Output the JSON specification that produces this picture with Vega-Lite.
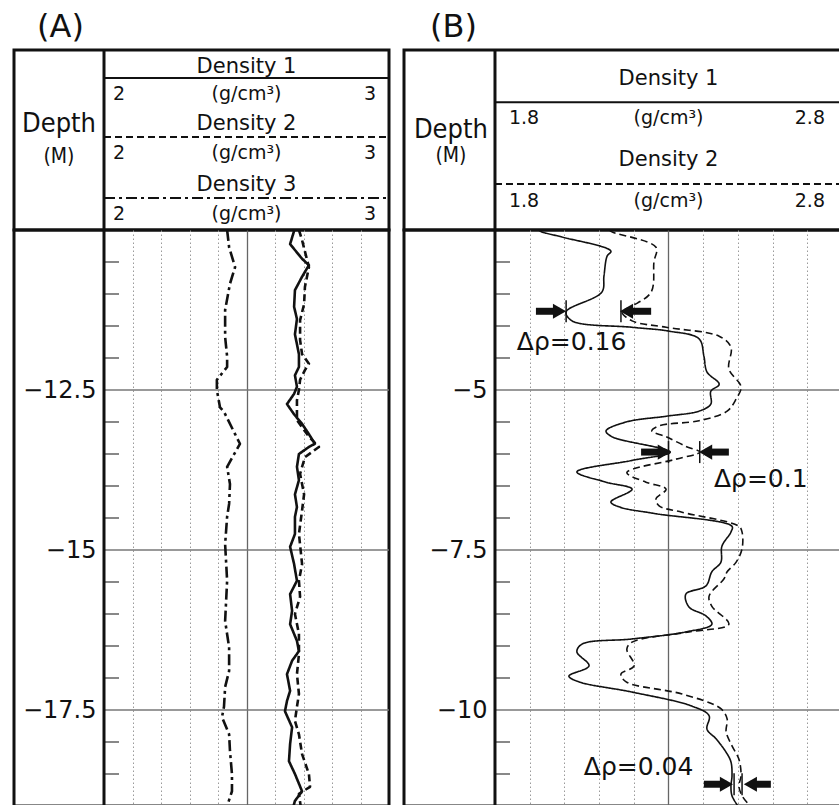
{
  "$schema": "https://vega.github.io/schema/vega-lite/v6.json",
  "background": "white",
  "padding": {"left": 12, "top": 9, "right": 0, "bottom": 0},
  "config": {
    "view": {"stroke": "#111", "strokeWidth": 3},
    "font": "DejaVu Sans",
    "title": {"font": "DejaVu Sans", "fontSize": 32, "fontWeight": "normal", "color": "#111", "anchor": "start", "offset": 5},
    "text": {"font": "DejaVu Sans", "color": "#111"}
  },
  "datasets": {
    "logs": [
      {"panel":"A","series":"Density 1","depth":-10,"density":2.668},
      {"panel":"A","series":"Density 1","depth":-10.22,"density":2.653},
      {"panel":"A","series":"Density 1","depth":-10.45,"density":2.695},
      {"panel":"A","series":"Density 1","depth":-10.55,"density":2.719},
      {"panel":"A","series":"Density 1","depth":-10.73,"density":2.695},
      {"panel":"A","series":"Density 1","depth":-10.94,"density":2.67},
      {"panel":"A","series":"Density 1","depth":-11.2,"density":2.667},
      {"panel":"A","series":"Density 1","depth":-11.39,"density":2.677},
      {"panel":"A","series":"Density 1","depth":-11.63,"density":2.67},
      {"panel":"A","series":"Density 1","depth":-11.94,"density":2.684},
      {"panel":"A","series":"Density 1","depth":-12.14,"density":2.684},
      {"panel":"A","series":"Density 1","depth":-12.27,"density":2.67},
      {"panel":"A","series":"Density 1","depth":-12.45,"density":2.677},
      {"panel":"A","series":"Density 1","depth":-12.56,"density":2.667},
      {"panel":"A","series":"Density 1","depth":-12.72,"density":2.642},
      {"panel":"A","series":"Density 1","depth":-12.88,"density":2.667},
      {"panel":"A","series":"Density 1","depth":-13.03,"density":2.695},
      {"panel":"A","series":"Density 1","depth":-13.19,"density":2.719},
      {"panel":"A","series":"Density 1","depth":-13.34,"density":2.74},
      {"panel":"A","series":"Density 1","depth":-13.39,"density":2.719},
      {"panel":"A","series":"Density 1","depth":-13.5,"density":2.684},
      {"panel":"A","series":"Density 1","depth":-13.7,"density":2.677},
      {"panel":"A","series":"Density 1","depth":-13.91,"density":2.684},
      {"panel":"A","series":"Density 1","depth":-14.13,"density":2.67},
      {"panel":"A","series":"Density 1","depth":-14.33,"density":2.677},
      {"panel":"A","series":"Density 1","depth":-14.48,"density":2.67},
      {"panel":"A","series":"Density 1","depth":-14.75,"density":2.67},
      {"panel":"A","series":"Density 1","depth":-14.95,"density":2.653},
      {"panel":"A","series":"Density 1","depth":-15.22,"density":2.667},
      {"panel":"A","series":"Density 1","depth":-15.48,"density":2.677},
      {"panel":"A","series":"Density 1","depth":-15.69,"density":2.653},
      {"panel":"A","series":"Density 1","depth":-15.95,"density":2.66},
      {"panel":"A","series":"Density 1","depth":-16.16,"density":2.653},
      {"panel":"A","series":"Density 1","depth":-16.42,"density":2.677},
      {"panel":"A","series":"Density 1","depth":-16.58,"density":2.684},
      {"panel":"A","series":"Density 1","depth":-16.73,"density":2.66},
      {"panel":"A","series":"Density 1","depth":-16.94,"density":2.642},
      {"panel":"A","series":"Density 1","depth":-17.2,"density":2.653},
      {"panel":"A","series":"Density 1","depth":-17.36,"density":2.642},
      {"panel":"A","series":"Density 1","depth":-17.52,"density":2.635},
      {"panel":"A","series":"Density 1","depth":-17.77,"density":2.66},
      {"panel":"A","series":"Density 1","depth":-18.03,"density":2.653},
      {"panel":"A","series":"Density 1","depth":-18.3,"density":2.649},
      {"panel":"A","series":"Density 1","depth":-18.5,"density":2.67},
      {"panel":"A","series":"Density 1","depth":-18.77,"density":2.695},
      {"panel":"A","series":"Density 1","depth":-18.92,"density":2.67},
      {"panel":"A","series":"Density 1","depth":-19,"density":2.665},
      {"panel":"A","series":"Density 2","depth":-10,"density":2.684},
      {"panel":"A","series":"Density 2","depth":-10.16,"density":2.695},
      {"panel":"A","series":"Density 2","depth":-10.58,"density":2.719},
      {"panel":"A","series":"Density 2","depth":-10.89,"density":2.705},
      {"panel":"A","series":"Density 2","depth":-11.16,"density":2.702},
      {"panel":"A","series":"Density 2","depth":-11.41,"density":2.688},
      {"panel":"A","series":"Density 2","depth":-11.72,"density":2.688},
      {"panel":"A","series":"Density 2","depth":-11.94,"density":2.695},
      {"panel":"A","series":"Density 2","depth":-12.09,"density":2.719},
      {"panel":"A","series":"Density 2","depth":-12.19,"density":2.705},
      {"panel":"A","series":"Density 2","depth":-12.34,"density":2.688},
      {"panel":"A","series":"Density 2","depth":-12.5,"density":2.684},
      {"panel":"A","series":"Density 2","depth":-12.66,"density":2.677},
      {"panel":"A","series":"Density 2","depth":-12.97,"density":2.677},
      {"panel":"A","series":"Density 2","depth":-13.23,"density":2.719},
      {"panel":"A","series":"Density 2","depth":-13.39,"density":2.754},
      {"panel":"A","series":"Density 2","depth":-13.55,"density":2.705},
      {"panel":"A","series":"Density 2","depth":-13.81,"density":2.688},
      {"panel":"A","series":"Density 2","depth":-14.13,"density":2.702},
      {"panel":"A","series":"Density 2","depth":-14.38,"density":2.695},
      {"panel":"A","series":"Density 2","depth":-14.75,"density":2.684},
      {"panel":"A","series":"Density 2","depth":-15.22,"density":2.695},
      {"panel":"A","series":"Density 2","depth":-15.48,"density":2.684},
      {"panel":"A","series":"Density 2","depth":-15.73,"density":2.688},
      {"panel":"A","series":"Density 2","depth":-16.0,"density":2.67},
      {"panel":"A","series":"Density 2","depth":-16.31,"density":2.684},
      {"panel":"A","series":"Density 2","depth":-16.63,"density":2.684},
      {"panel":"A","series":"Density 2","depth":-16.94,"density":2.677},
      {"panel":"A","series":"Density 2","depth":-17.25,"density":2.684},
      {"panel":"A","series":"Density 2","depth":-17.45,"density":2.677},
      {"panel":"A","series":"Density 2","depth":-17.67,"density":2.67},
      {"panel":"A","series":"Density 2","depth":-17.88,"density":2.684},
      {"panel":"A","series":"Density 2","depth":-18.19,"density":2.695},
      {"panel":"A","series":"Density 2","depth":-18.5,"density":2.719},
      {"panel":"A","series":"Density 2","depth":-18.7,"density":2.723},
      {"panel":"A","series":"Density 2","depth":-18.81,"density":2.684},
      {"panel":"A","series":"Density 2","depth":-19,"density":2.69},
      {"panel":"A","series":"Density 3","depth":-10,"density":2.432},
      {"panel":"A","series":"Density 3","depth":-10.27,"density":2.439},
      {"panel":"A","series":"Density 3","depth":-10.58,"density":2.46},
      {"panel":"A","series":"Density 3","depth":-10.84,"density":2.442},
      {"panel":"A","series":"Density 3","depth":-11.25,"density":2.425},
      {"panel":"A","series":"Density 3","depth":-11.67,"density":2.425},
      {"panel":"A","series":"Density 3","depth":-11.98,"density":2.432},
      {"panel":"A","series":"Density 3","depth":-12.14,"density":2.432},
      {"panel":"A","series":"Density 3","depth":-12.34,"density":2.396},
      {"panel":"A","series":"Density 3","depth":-12.5,"density":2.396},
      {"panel":"A","series":"Density 3","depth":-12.77,"density":2.407},
      {"panel":"A","series":"Density 3","depth":-12.84,"density":2.421},
      {"panel":"A","series":"Density 3","depth":-13.19,"density":2.46},
      {"panel":"A","series":"Density 3","depth":-13.34,"density":2.477},
      {"panel":"A","series":"Density 3","depth":-13.7,"density":2.432},
      {"panel":"A","series":"Density 3","depth":-13.97,"density":2.442},
      {"panel":"A","series":"Density 3","depth":-14.28,"density":2.439},
      {"panel":"A","series":"Density 3","depth":-14.48,"density":2.432},
      {"panel":"A","series":"Density 3","depth":-14.91,"density":2.425},
      {"panel":"A","series":"Density 3","depth":-15.48,"density":2.432},
      {"panel":"A","series":"Density 3","depth":-16.11,"density":2.425},
      {"panel":"A","series":"Density 3","depth":-16.52,"density":2.439},
      {"panel":"A","series":"Density 3","depth":-16.89,"density":2.439},
      {"panel":"A","series":"Density 3","depth":-17.14,"density":2.425},
      {"panel":"A","series":"Density 3","depth":-17.45,"density":2.421},
      {"panel":"A","series":"Density 3","depth":-17.61,"density":2.414},
      {"panel":"A","series":"Density 3","depth":-17.88,"density":2.439},
      {"panel":"A","series":"Density 3","depth":-18.14,"density":2.442},
      {"panel":"A","series":"Density 3","depth":-18.5,"density":2.449},
      {"panel":"A","series":"Density 3","depth":-18.77,"density":2.449},
      {"panel":"A","series":"Density 3","depth":-19,"density":2.432},
      {"panel":"B","series":"Density 1","depth":-2.5,"density":1.925},
      {"panel":"B","series":"Density 1","depth":-2.53,"density":1.935},
      {"panel":"B","series":"Density 1","depth":-2.61,"density":1.993},
      {"panel":"B","series":"Density 1","depth":-2.83,"density":2.134},
      {"panel":"B","series":"Density 1","depth":-2.91,"density":2.123},
      {"panel":"B","series":"Density 1","depth":-3.22,"density":2.114},
      {"panel":"B","series":"Density 1","depth":-3.47,"density":2.108},
      {"panel":"B","series":"Density 1","depth":-3.78,"density":2.005},
      {"panel":"B","series":"Density 1","depth":-3.92,"density":2.022},
      {"panel":"B","series":"Density 1","depth":-4.02,"density":2.195},
      {"panel":"B","series":"Density 1","depth":-4.08,"density":2.301},
      {"panel":"B","series":"Density 1","depth":-4.2,"density":2.388},
      {"panel":"B","series":"Density 1","depth":-4.47,"density":2.402},
      {"panel":"B","series":"Density 1","depth":-4.72,"density":2.411},
      {"panel":"B","series":"Density 1","depth":-4.91,"density":2.446},
      {"panel":"B","series":"Density 1","depth":-5.02,"density":2.422},
      {"panel":"B","series":"Density 1","depth":-5.22,"density":2.422},
      {"panel":"B","series":"Density 1","depth":-5.33,"density":2.388},
      {"panel":"B","series":"Density 1","depth":-5.41,"density":2.293},
      {"panel":"B","series":"Density 1","depth":-5.5,"density":2.178},
      {"panel":"B","series":"Density 1","depth":-5.64,"density":2.12},
      {"panel":"B","series":"Density 1","depth":-5.73,"density":2.137},
      {"panel":"B","series":"Density 1","depth":-5.97,"density":2.305},
      {"panel":"B","series":"Density 1","depth":-6.1,"density":2.195},
      {"panel":"B","series":"Density 1","depth":-6.28,"density":2.036},
      {"panel":"B","series":"Density 1","depth":-6.44,"density":2.12},
      {"panel":"B","series":"Density 1","depth":-6.55,"density":2.195},
      {"panel":"B","series":"Density 1","depth":-6.75,"density":2.134},
      {"panel":"B","series":"Density 1","depth":-6.83,"density":2.16},
      {"panel":"B","series":"Density 1","depth":-6.93,"density":2.26},
      {"panel":"B","series":"Density 1","depth":-7.13,"density":2.483},
      {"panel":"B","series":"Density 1","depth":-7.22,"density":2.48},
      {"panel":"B","series":"Density 1","depth":-7.44,"density":2.454},
      {"panel":"B","series":"Density 1","depth":-7.69,"density":2.451},
      {"panel":"B","series":"Density 1","depth":-7.84,"density":2.425},
      {"panel":"B","series":"Density 1","depth":-8.06,"density":2.408},
      {"panel":"B","series":"Density 1","depth":-8.19,"density":2.35},
      {"panel":"B","series":"Density 1","depth":-8.39,"density":2.359},
      {"panel":"B","series":"Density 1","depth":-8.53,"density":2.408},
      {"panel":"B","series":"Density 1","depth":-8.66,"density":2.425},
      {"panel":"B","series":"Density 1","depth":-8.78,"density":2.35},
      {"panel":"B","series":"Density 1","depth":-8.89,"density":2.195},
      {"panel":"B","series":"Density 1","depth":-8.97,"density":2.051},
      {"panel":"B","series":"Density 1","depth":-9.09,"density":2.036},
      {"panel":"B","series":"Density 1","depth":-9.31,"density":2.071},
      {"panel":"B","series":"Density 1","depth":-9.47,"density":2.013},
      {"panel":"B","series":"Density 1","depth":-9.56,"density":2.042},
      {"panel":"B","series":"Density 1","depth":-9.72,"density":2.195},
      {"panel":"B","series":"Density 1","depth":-9.94,"density":2.368},
      {"panel":"B","series":"Density 1","depth":-10.09,"density":2.417},
      {"panel":"B","series":"Density 1","depth":-10.3,"density":2.411},
      {"panel":"B","series":"Density 1","depth":-10.45,"density":2.437},
      {"panel":"B","series":"Density 1","depth":-10.66,"density":2.466},
      {"panel":"B","series":"Density 1","depth":-10.81,"density":2.48},
      {"panel":"B","series":"Density 1","depth":-11.03,"density":2.483},
      {"panel":"B","series":"Density 1","depth":-11.19,"density":2.48},
      {"panel":"B","series":"Density 1","depth":-11.34,"density":2.483},
      {"panel":"B","series":"Density 1","depth":-11.5,"density":2.5},
      {"panel":"B","series":"Density 2","depth":-2.5,"density":2.13},
      {"panel":"B","series":"Density 2","depth":-2.53,"density":2.137},
      {"panel":"B","series":"Density 2","depth":-2.77,"density":2.264},
      {"panel":"B","series":"Density 2","depth":-3.0,"density":2.258},
      {"panel":"B","series":"Density 2","depth":-3.47,"density":2.25},
      {"panel":"B","series":"Density 2","depth":-3.69,"density":2.195},
      {"panel":"B","series":"Density 2","depth":-3.78,"density":2.166},
      {"panel":"B","series":"Density 2","depth":-3.92,"density":2.195},
      {"panel":"B","series":"Density 2","depth":-4.02,"density":2.293},
      {"panel":"B","series":"Density 2","depth":-4.16,"density":2.446},
      {"panel":"B","series":"Density 2","depth":-4.33,"density":2.48},
      {"panel":"B","series":"Density 2","depth":-4.67,"density":2.474},
      {"panel":"B","series":"Density 2","depth":-4.95,"density":2.509},
      {"panel":"B","series":"Density 2","depth":-5.14,"density":2.495},
      {"panel":"B","series":"Density 2","depth":-5.33,"density":2.469},
      {"panel":"B","series":"Density 2","depth":-5.48,"density":2.388},
      {"panel":"B","series":"Density 2","depth":-5.56,"density":2.273},
      {"panel":"B","series":"Density 2","depth":-5.64,"density":2.252},
      {"panel":"B","series":"Density 2","depth":-5.73,"density":2.293},
      {"panel":"B","series":"Density 2","depth":-5.88,"density":2.35},
      {"panel":"B","series":"Density 2","depth":-5.97,"density":2.39},
      {"panel":"B","series":"Density 2","depth":-6.08,"density":2.322},
      {"panel":"B","series":"Density 2","depth":-6.29,"density":2.18},
      {"panel":"B","series":"Density 2","depth":-6.44,"density":2.235},
      {"panel":"B","series":"Density 2","depth":-6.55,"density":2.293},
      {"panel":"B","series":"Density 2","depth":-6.7,"density":2.264},
      {"panel":"B","series":"Density 2","depth":-6.81,"density":2.273},
      {"panel":"B","series":"Density 2","depth":-6.91,"density":2.339},
      {"panel":"B","series":"Density 2","depth":-7.13,"density":2.503},
      {"panel":"B","series":"Density 2","depth":-7.22,"density":2.512},
      {"panel":"B","series":"Density 2","depth":-7.48,"density":2.512},
      {"panel":"B","series":"Density 2","depth":-7.69,"density":2.495},
      {"panel":"B","series":"Density 2","depth":-7.84,"density":2.469},
      {"panel":"B","series":"Density 2","depth":-7.95,"density":2.46},
      {"panel":"B","series":"Density 2","depth":-8.22,"density":2.417},
      {"panel":"B","series":"Density 2","depth":-8.38,"density":2.425},
      {"panel":"B","series":"Density 2","depth":-8.66,"density":2.474},
      {"panel":"B","series":"Density 2","depth":-8.78,"density":2.359},
      {"panel":"B","series":"Density 2","depth":-8.94,"density":2.195},
      {"panel":"B","series":"Density 2","depth":-9.05,"density":2.18},
      {"panel":"B","series":"Density 2","depth":-9.31,"density":2.201},
      {"panel":"B","series":"Density 2","depth":-9.44,"density":2.163},
      {"panel":"B","series":"Density 2","depth":-9.56,"density":2.178},
      {"panel":"B","series":"Density 2","depth":-9.75,"density":2.339},
      {"panel":"B","series":"Density 2","depth":-9.98,"density":2.451},
      {"panel":"B","series":"Density 2","depth":-10.14,"density":2.469},
      {"panel":"B","series":"Density 2","depth":-10.34,"density":2.466},
      {"panel":"B","series":"Density 2","depth":-10.56,"density":2.483},
      {"panel":"B","series":"Density 2","depth":-10.77,"density":2.503},
      {"panel":"B","series":"Density 2","depth":-11.03,"density":2.509},
      {"panel":"B","series":"Density 2","depth":-11.19,"density":2.503},
      {"panel":"B","series":"Density 2","depth":-11.34,"density":2.512},
      {"panel":"B","series":"Density 2","depth":-11.5,"density":2.535}
    ],
    "scales": [
      {"panel":"A","series":"Density 1","lo":2,"hi":3,"mid":2.5,"unit":"(g/cm³)","labelLevel":0.55,"lineLevel":0.93,"scaleLevel":1.45},
      {"panel":"A","series":"Density 2","lo":2,"hi":3,"mid":2.5,"unit":"(g/cm³)","labelLevel":2.47,"lineLevel":2.9,"scaleLevel":3.42},
      {"panel":"A","series":"Density 3","lo":2,"hi":3,"mid":2.5,"unit":"(g/cm³)","labelLevel":4.5,"lineLevel":4.93,"scaleLevel":5.45},
      {"panel":"B","series":"Density 1","lo":1.8,"hi":2.8,"mid":2.3,"unit":"(g/cm³)","labelLevel":0.64,"lineLevel":1.16,"scaleLevel":1.52},
      {"panel":"B","series":"Density 2","lo":1.8,"hi":2.8,"mid":2.3,"unit":"(g/cm³)","labelLevel":2.44,"lineLevel":2.98,"scaleLevel":3.35}
    ],
    "depthHeader": [
      {"panel":"A","text":"Depth","level":2.45},
      {"panel":"A","text":"(M)","level":3.55},
      {"panel":"B","text":"Depth","level":1.78},
      {"panel":"B","text":"(M)","level":2.35}
    ],
    "depthTicks": [
      {"panel":"A","depth":-10.5,"kind":"minor"},{"panel":"A","depth":-11,"kind":"minor"},{"panel":"A","depth":-11.5,"kind":"minor"},{"panel":"A","depth":-12,"kind":"minor"},
      {"panel":"A","depth":-12.5,"kind":"major"},
      {"panel":"A","depth":-13,"kind":"minor"},{"panel":"A","depth":-13.5,"kind":"minor"},{"panel":"A","depth":-14,"kind":"minor"},{"panel":"A","depth":-14.5,"kind":"minor"},
      {"panel":"A","depth":-15,"kind":"major"},
      {"panel":"A","depth":-15.5,"kind":"minor"},{"panel":"A","depth":-16,"kind":"minor"},{"panel":"A","depth":-16.5,"kind":"minor"},{"panel":"A","depth":-17,"kind":"minor"},
      {"panel":"A","depth":-17.5,"kind":"major"},
      {"panel":"A","depth":-18,"kind":"minor"},{"panel":"A","depth":-18.5,"kind":"minor"},
      {"panel":"B","depth":-3,"kind":"minor"},{"panel":"B","depth":-3.5,"kind":"minor"},{"panel":"B","depth":-4,"kind":"minor"},{"panel":"B","depth":-4.5,"kind":"minor"},
      {"panel":"B","depth":-5,"kind":"major"},
      {"panel":"B","depth":-5.5,"kind":"minor"},{"panel":"B","depth":-6,"kind":"minor"},{"panel":"B","depth":-6.5,"kind":"minor"},{"panel":"B","depth":-7,"kind":"minor"},
      {"panel":"B","depth":-7.5,"kind":"major"},
      {"panel":"B","depth":-8,"kind":"minor"},{"panel":"B","depth":-8.5,"kind":"minor"},{"panel":"B","depth":-9,"kind":"minor"},{"panel":"B","depth":-9.5,"kind":"minor"},
      {"panel":"B","depth":-10,"kind":"major"},
      {"panel":"B","depth":-10.5,"kind":"minor"},{"panel":"B","depth":-11,"kind":"minor"}
    ],
    "markers": [
      {"label":"Δρ=0.16","depth":-3.77,"density":2.005},
      {"label":"Δρ=0.16","depth":-3.77,"density":2.163},
      {"label":"Δρ=0.1","depth":-5.97,"density":2.3},
      {"label":"Δρ=0.1","depth":-5.97,"density":2.39},
      {"label":"Δρ=0.04","depth":-11.16,"density":2.489},
      {"label":"Δρ=0.04","depth":-11.16,"density":2.512}
    ],
    "arrows": [
      {"label":"Δρ=0.16","depth":-3.77,"tail":1.918,"head":1.986,"dir":"right"},
      {"label":"Δρ=0.16","depth":-3.77,"tail":2.25,"head":2.179,"dir":"left"},
      {"label":"Δρ=0.1","depth":-5.97,"tail":2.221,"head":2.288,"dir":"right"},
      {"label":"Δρ=0.1","depth":-5.97,"tail":2.474,"head":2.407,"dir":"left"},
      {"label":"Δρ=0.04","depth":-11.16,"tail":2.402,"head":2.467,"dir":"right"},
      {"label":"Δρ=0.04","depth":-11.16,"tail":2.595,"head":2.536,"dir":"left"}
    ],
    "deltas": [
      {"label":"Δρ=0.16","depth":-4.25,"density":1.863},
      {"label":"Δρ=0.1","depth":-6.39,"density":2.431},
      {"label":"Δρ=0.04","depth":-10.89,"density":2.056}
    ]
  },
  "spacing": 10,
  "resolve": {"scale": {"x": "independent", "y": "independent", "strokeDash": "independent", "shape": "independent"}},
  "hconcat": [
    {
      "spacing": 0,
      "bounds": "flush",
      "resolve": {"scale": {"x": "independent", "y": "independent"}},
      "vconcat": [
        {
          "width": 375, "height": 180,
          "title": {"text": "(A)", "dx": 23},
          "layer": [
            {"data": {"values": [{"edge": "depth column"}]},
             "mark": {"type": "rule", "color": "#111", "strokeWidth": 3},
             "encoding": {"x": {"datum": 2, "type": "quantitative", "scale": {"domain": [1.6842, 3], "nice": false, "zero": false}, "axis": null}}},
            {"data": {"name": "scales"}, "transform": [{"filter": "datum.panel === 'A'"}],
             "mark": {"type": "rule", "color": "#111", "strokeWidth": 2},
             "encoding": {
               "x": {"field": "lo", "type": "quantitative", "axis": null},
               "x2": {"field": "hi"},
               "y": {"field": "lineLevel", "type": "quantitative", "scale": {"domain": [0, 6], "reverse": true, "nice": false, "zero": false}, "axis": null},
               "strokeDash": {"field": "series", "type": "nominal", "scale": {"domain": ["Density 1", "Density 2", "Density 3"], "range": [[1, 0], [7, 4], [11, 4, 3, 4]]}, "legend": null}}},
            {"data": {"name": "scales"}, "transform": [{"filter": "datum.panel === 'A'"}],
             "mark": {"type": "text", "fontSize": 21, "align": "center", "baseline": "middle"},
             "encoding": {"x": {"field": "mid", "type": "quantitative", "axis": null}, "y": {"field": "labelLevel", "type": "quantitative", "axis": null}, "text": {"field": "series"}}},
            {"data": {"name": "scales"}, "transform": [{"filter": "datum.panel === 'A'"}],
             "mark": {"type": "text", "fontSize": 19, "align": "left", "baseline": "middle", "dx": 9},
             "encoding": {"x": {"field": "lo", "type": "quantitative", "axis": null}, "y": {"field": "scaleLevel", "type": "quantitative", "axis": null}, "text": {"field": "lo", "type": "quantitative", "format": "~g"}}},
            {"data": {"name": "scales"}, "transform": [{"filter": "datum.panel === 'A'"}],
             "mark": {"type": "text", "fontSize": 19, "align": "center", "baseline": "middle"},
             "encoding": {"x": {"field": "mid", "type": "quantitative", "axis": null}, "y": {"field": "scaleLevel", "type": "quantitative", "axis": null}, "text": {"field": "unit"}}},
            {"data": {"name": "scales"}, "transform": [{"filter": "datum.panel === 'A'"}],
             "mark": {"type": "text", "fontSize": 19, "align": "right", "baseline": "middle", "dx": -13},
             "encoding": {"x": {"field": "hi", "type": "quantitative", "axis": null}, "y": {"field": "scaleLevel", "type": "quantitative", "axis": null}, "text": {"field": "hi", "type": "quantitative", "format": "~g"}}},
            {"data": {"name": "depthHeader"}, "transform": [{"filter": "datum.panel === 'A' && datum.text === 'Depth'"}],
             "mark": {"type": "text", "fontSize": 27, "align": "center", "baseline": "middle", "font": "DejaVu Sans Condensed, DejaVu Sans"},
             "encoding": {"x": {"datum": 1.842, "type": "quantitative", "axis": null}, "y": {"field": "level", "type": "quantitative", "axis": null}, "text": {"field": "text"}}},
            {"data": {"name": "depthHeader"}, "transform": [{"filter": "datum.panel === 'A' && datum.text === '(M)'"}],
             "mark": {"type": "text", "fontSize": 21, "align": "center", "baseline": "middle", "font": "DejaVu Sans Condensed, DejaVu Sans"},
             "encoding": {"x": {"datum": 1.842, "type": "quantitative", "axis": null}, "y": {"field": "level", "type": "quantitative", "axis": null}, "text": {"field": "text"}}}
          ]
        },
        {
          "width": 375, "height": 576,
          "layer": [
            {"data": {"name": "depthTicks"}, "transform": [{"filter": "datum.panel === 'A' && datum.kind === 'major'"}],
             "mark": {"type": "rule", "color": "#777", "strokeWidth": 1.5},
             "encoding": {
               "x": {"datum": 2, "type": "quantitative", "scale": {"domain": [1.6842, 3], "nice": false, "zero": false},
                     "axis": {"orient": "bottom", "values": [2.1, 2.2, 2.3, 2.4, 2.5, 2.6, 2.7, 2.8, 2.9], "grid": true, "labels": false, "ticks": false, "domain": false, "title": null,
                              "gridColor": {"condition": {"test": "abs(datum.value - 2.5) < 0.001", "value": "#666"}, "value": "#9a9a9a"},
                              "gridWidth": {"condition": {"test": "abs(datum.value - 2.5) < 0.001", "value": 1.3}, "value": 1},
                              "gridDash": {"condition": {"test": "abs(datum.value - 2.5) < 0.001", "value": []}, "value": [1.5, 2.5]}}},
               "x2": {"datum": 3},
               "y": {"field": "depth", "type": "quantitative", "scale": {"domain": [-19, -10], "nice": false, "zero": false},
                     "axis": {"orient": "left", "offset": -90, "values": [-12.5, -15, -17.5], "format": "~g", "labelFontSize": 24, "labelColor": "#111", "labelFont": "DejaVu Sans", "labelPadding": 8, "ticks": false, "domain": false, "grid": false, "title": null}}}},
            {"data": {"name": "depthTicks"}, "transform": [{"filter": "datum.panel === 'A' && datum.kind === 'minor'"}],
             "mark": {"type": "rule", "color": "#888", "strokeWidth": 2},
             "encoding": {"x": {"datum": 2, "type": "quantitative"}, "x2": {"datum": 2.0526}, "y": {"field": "depth", "type": "quantitative"}}},
            {"data": {"values": [{"edge": "depth column"}]},
             "mark": {"type": "rule", "color": "#111", "strokeWidth": 3},
             "encoding": {"x": {"datum": 2, "type": "quantitative"}}},
            {"data": {"name": "logs"}, "transform": [{"filter": "datum.panel === 'A'"}],
             "mark": {"type": "line", "color": "#111", "strokeWidth": 2.6, "strokeJoin": "round"},
             "encoding": {
               "x": {"field": "density", "type": "quantitative"},
               "y": {"field": "depth", "type": "quantitative"},
               "order": {"field": "depth", "sort": "descending"},
               "strokeDash": {"field": "series", "type": "nominal", "scale": {"domain": ["Density 1", "Density 2", "Density 3"], "range": [[1, 0], [7, 4], [11, 4, 3, 4]]}, "legend": null}}}
          ]
        }
      ]
    },
    {
      "spacing": 0,
      "bounds": "flush",
      "resolve": {"scale": {"x": "independent", "y": "independent"}},
      "vconcat": [
        {
          "width": 438, "height": 180,
          "title": {"text": "(B)", "dx": 26},
          "layer": [
            {"data": {"values": [{"edge": "depth column"}]},
             "mark": {"type": "rule", "color": "#111", "strokeWidth": 3},
             "encoding": {"x": {"datum": 1.8, "type": "quantitative", "scale": {"domain": [1.5378, 2.8], "nice": false, "zero": false}, "axis": null}}},
            {"data": {"name": "scales"}, "transform": [{"filter": "datum.panel === 'B'"}],
             "mark": {"type": "rule", "color": "#111", "strokeWidth": 2},
             "encoding": {
               "x": {"field": "lo", "type": "quantitative", "axis": null},
               "x2": {"field": "hi"},
               "y": {"field": "lineLevel", "type": "quantitative", "scale": {"domain": [0, 4], "reverse": true, "nice": false, "zero": false}, "axis": null},
               "strokeDash": {"field": "series", "type": "nominal", "scale": {"domain": ["Density 1", "Density 2"], "range": [[1, 0], [7, 4]]}, "legend": null}}},
            {"data": {"name": "scales"}, "transform": [{"filter": "datum.panel === 'B'"}],
             "mark": {"type": "text", "fontSize": 21, "align": "center", "baseline": "middle"},
             "encoding": {"x": {"field": "mid", "type": "quantitative", "axis": null}, "y": {"field": "labelLevel", "type": "quantitative", "axis": null}, "text": {"field": "series"}}},
            {"data": {"name": "scales"}, "transform": [{"filter": "datum.panel === 'B'"}],
             "mark": {"type": "text", "fontSize": 19, "align": "left", "baseline": "middle", "dx": 14},
             "encoding": {"x": {"field": "lo", "type": "quantitative", "axis": null}, "y": {"field": "scaleLevel", "type": "quantitative", "axis": null}, "text": {"field": "lo", "type": "quantitative", "format": "~g"}}},
            {"data": {"name": "scales"}, "transform": [{"filter": "datum.panel === 'B'"}],
             "mark": {"type": "text", "fontSize": 19, "align": "center", "baseline": "middle"},
             "encoding": {"x": {"field": "mid", "type": "quantitative", "axis": null}, "y": {"field": "scaleLevel", "type": "quantitative", "axis": null}, "text": {"field": "unit"}}},
            {"data": {"name": "scales"}, "transform": [{"filter": "datum.panel === 'B'"}],
             "mark": {"type": "text", "fontSize": 19, "align": "right", "baseline": "middle", "dx": -17},
             "encoding": {"x": {"field": "hi", "type": "quantitative", "axis": null}, "y": {"field": "scaleLevel", "type": "quantitative", "axis": null}, "text": {"field": "hi", "type": "quantitative", "format": "~g"}}},
            {"data": {"name": "depthHeader"}, "transform": [{"filter": "datum.panel === 'B' && datum.text === 'Depth'"}],
             "mark": {"type": "text", "fontSize": 27, "align": "center", "baseline": "middle", "font": "DejaVu Sans Condensed, DejaVu Sans"},
             "encoding": {"x": {"datum": 1.673, "type": "quantitative", "axis": null}, "y": {"field": "level", "type": "quantitative", "axis": null}, "text": {"field": "text"}}},
            {"data": {"name": "depthHeader"}, "transform": [{"filter": "datum.panel === 'B' && datum.text === '(M)'"}],
             "mark": {"type": "text", "fontSize": 21, "align": "center", "baseline": "middle", "font": "DejaVu Sans Condensed, DejaVu Sans"},
             "encoding": {"x": {"datum": 1.673, "type": "quantitative", "axis": null}, "y": {"field": "level", "type": "quantitative", "axis": null}, "text": {"field": "text"}}}
          ]
        },
        {
          "width": 438, "height": 576,
          "layer": [
            {"data": {"name": "depthTicks"}, "transform": [{"filter": "datum.panel === 'B' && datum.kind === 'major'"}],
             "mark": {"type": "rule", "color": "#777", "strokeWidth": 1.5},
             "encoding": {
               "x": {"datum": 1.8, "type": "quantitative", "scale": {"domain": [1.5378, 2.8], "nice": false, "zero": false},
                     "axis": {"orient": "bottom", "values": [1.9, 2.0, 2.1, 2.2, 2.3, 2.4, 2.5, 2.6, 2.7], "grid": true, "labels": false, "ticks": false, "domain": false, "title": null,
                              "gridColor": {"condition": {"test": "abs(datum.value - 2.3) < 0.001", "value": "#666"}, "value": "#9a9a9a"},
                              "gridWidth": {"condition": {"test": "abs(datum.value - 2.3) < 0.001", "value": 1.3}, "value": 1},
                              "gridDash": {"condition": {"test": "abs(datum.value - 2.3) < 0.001", "value": []}, "value": [1.5, 2.5]}}},
               "x2": {"datum": 2.8},
               "y": {"field": "depth", "type": "quantitative", "scale": {"domain": [-11.5, -2.5], "nice": false, "zero": false},
                     "axis": {"orient": "left", "offset": -91, "values": [-5, -7.5, -10], "format": "~g", "labelFontSize": 24, "labelColor": "#111", "labelFont": "DejaVu Sans", "labelPadding": 8, "ticks": false, "domain": false, "grid": false, "title": null}}}},
            {"data": {"name": "depthTicks"}, "transform": [{"filter": "datum.panel === 'B' && datum.kind === 'minor'"}],
             "mark": {"type": "rule", "color": "#888", "strokeWidth": 2},
             "encoding": {"x": {"datum": 1.8, "type": "quantitative"}, "x2": {"datum": 1.8432}, "y": {"field": "depth", "type": "quantitative"}}},
            {"data": {"values": [{"edge": "depth column"}]},
             "mark": {"type": "rule", "color": "#111", "strokeWidth": 3},
             "encoding": {"x": {"datum": 1.8, "type": "quantitative"}}},
            {"data": {"name": "logs"}, "transform": [{"filter": "datum.panel === 'B'"}],
             "mark": {"type": "line", "color": "#111", "strokeWidth": 1.6, "strokeJoin": "round", "interpolate": "catmull-rom"},
             "encoding": {
               "x": {"field": "density", "type": "quantitative"},
               "y": {"field": "depth", "type": "quantitative"},
               "order": {"field": "depth", "sort": "descending"},
               "strokeDash": {"field": "series", "type": "nominal", "scale": {"domain": ["Density 1", "Density 2"], "range": [[1, 0], [8, 5]]}, "legend": null}}},
            {"data": {"name": "markers"},
             "mark": {"type": "tick", "orient": "vertical", "size": 22, "thickness": 1.5, "color": "#111", "opacity": 1},
             "encoding": {"x": {"field": "density", "type": "quantitative"}, "y": {"field": "depth", "type": "quantitative"}}},
            {"data": {"name": "arrows"},
             "mark": {"type": "rule", "color": "#111", "strokeWidth": 7, "strokeCap": "butt"},
             "encoding": {"x": {"field": "tail", "type": "quantitative"}, "x2": {"field": "head"}, "y": {"field": "depth", "type": "quantitative"}}},
            {"data": {"name": "arrows"},
             "mark": {"type": "point", "filled": true, "size": 230, "color": "#111", "opacity": 1, "strokeWidth": 0},
             "encoding": {"x": {"field": "head", "type": "quantitative"}, "y": {"field": "depth", "type": "quantitative"},
                          "shape": {"field": "dir", "type": "nominal", "scale": {"domain": ["right", "left"], "range": ["triangle-right", "triangle-left"]}, "legend": null}}},
            {"data": {"name": "deltas"},
             "mark": {"type": "text", "fontSize": 25, "align": "left", "baseline": "middle"},
             "encoding": {"x": {"field": "density", "type": "quantitative"}, "y": {"field": "depth", "type": "quantitative"}, "text": {"field": "label"}}}
          ]
        }
      ]
    }
  ]
}
